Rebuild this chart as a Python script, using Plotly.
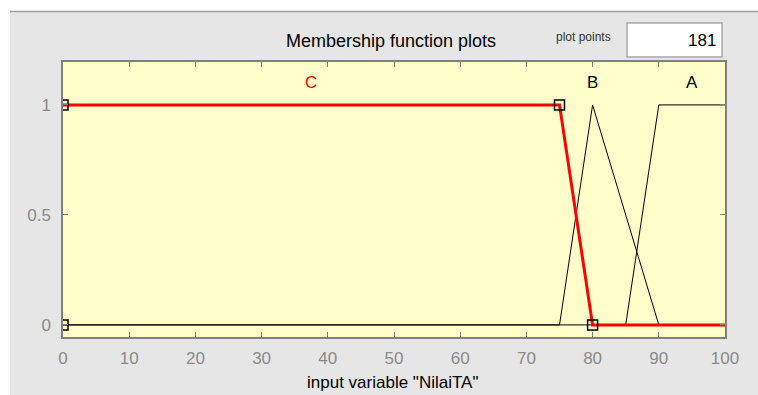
import plotly.graph_objects as go

# Membership functions of input variable "NilaiTA"
c_x = [0, 75, 80, 100]
c_y = [1, 1, 0, 0]
c_marker_x = [0, 0, 75, 80]
c_marker_y = [0, 1, 1, 0]
b_x = [0, 75, 80, 83.5, 90, 100]
b_y = [0, 0, 1, 0.65, 0, 0]
a_x = [0, 85, 90, 100]
a_y = [0, 0, 1, 1]
mf_names = ["C", "B", "A"]
mf_label_x = [37.5, 80, 95]
mf_label_y = [1.1, 1.1, 1.1]
mf_label_colors = ["red", "black", "black"]
x_ticks = [0, 10, 20, 30, 40, 50, 60, 70, 80, 90, 100]
y_ticks = [0, 0.5, 1]
plot_points = 181

W, H = 758, 395
L, R, T, B = 63, 33, 62, 58
pw, ph = W - L - R, H - T - B

def px(x):
    return (x - L) / pw

def py(y):
    return (H - B - y) / ph

fig = go.Figure()
fig.add_trace(go.Scatter(x=b_x, y=b_y, mode="lines", line=dict(color="black", width=1), hoverinfo="skip"))
fig.add_trace(go.Scatter(x=a_x, y=a_y, mode="lines", line=dict(color="black", width=1), hoverinfo="skip"))
fig.add_trace(go.Scatter(x=c_x, y=c_y, mode="lines", line=dict(color="red", width=3), hoverinfo="skip"))
fig.add_trace(go.Scatter(x=c_marker_x, y=c_marker_y, mode="markers",
                         marker=dict(symbol="square-open", size=10, color="black", line=dict(width=1.5, color="black")),
                         cliponaxis=True, hoverinfo="skip"))

font = "Liberation Sans, Arial, sans-serif"
annotations = []
for name, lx, ly, col in zip(mf_names, mf_label_x, mf_label_y, mf_label_colors):
    annotations.append(dict(x=lx, y=ly, xref="x", yref="y", text=name, showarrow=False,
                            xanchor="center", yanchor="middle",
                            font=dict(family=font, size=17, color=col)))
annotations += [
    dict(x=px(391), y=py(41), xref="paper", yref="paper", text="Membership function plots",
         xanchor="center", yanchor="middle",
         showarrow=False, font=dict(family=font, size=18, color="black")),
    dict(x=px(583), y=py(37), xref="paper", yref="paper", text="plot points",
         xanchor="center", yanchor="middle",
         showarrow=False, font=dict(family=font, size=12, color="#333333")),
    dict(x=px(718), y=py(41), xref="paper", yref="paper", text=str(plot_points),
         xanchor="right", yanchor="middle",
         showarrow=False, font=dict(family=font, size=17, color="black")),
    dict(x=px(392), y=py(382), xref="paper", yref="paper", text='input variable "NilaiTA"',
         xanchor="center", yanchor="middle",
         showarrow=False, font=dict(family=font, size=17, color="black")),
]

shapes = [
    dict(type="rect", xref="paper", yref="paper", x0=px(0), x1=px(10), y0=py(H), y1=py(0),
         fillcolor="white", line=dict(width=0), layer="below"),
    dict(type="rect", xref="paper", yref="paper", x0=px(0), x1=px(W), y0=py(11), y1=py(0),
         fillcolor="white", line=dict(width=0), layer="below"),
    dict(type="line", xref="paper", yref="paper", x0=px(10), x1=px(W), y0=py(11.5), y1=py(11.5),
         line=dict(color="#a0a0a0", width=1.5)),
    dict(type="rect", xref="paper", yref="paper", x0=px(627), x1=px(722), y0=py(57), y1=py(23),
         fillcolor="white", line=dict(color="#a8a8a8", width=1.5), layer="below"),
]

axis_common = dict(showline=True, linecolor="#808080", linewidth=1.5, mirror="ticks",
                   ticks="inside", ticklen=5, tickcolor="#808080", showgrid=False, zeroline=False,
                   tickfont=dict(family=font, size=17, color="#8a8a8a"))
fig.update_layout(
    width=W, height=H,
    margin=dict(l=L, r=R, t=T, b=B),
    paper_bgcolor="#e6e6e6",
    plot_bgcolor="#ffffcc",
    showlegend=False,
    xaxis=dict(range=[0, 100], tickvals=x_ticks, ticklabelstandoff=5, **axis_common),
    yaxis=dict(range=[-0.055, 1.195], tickvals=y_ticks, ticktext=["0", "0.5", "1"],
               ticklabelstandoff=7, **axis_common),
    annotations=annotations,
    shapes=shapes,
)
fig.write_html("out.html", config={"displayModeBar": False},
               post_script=("document.body.style.margin='0';document.body.style.padding='0';"
                            "document.body.style.overflow='hidden';"
                            "document.documentElement.style.overflow='hidden';"
                            "document.body.style.background='#e6e6e6';"
                            "document.documentElement.style.background='#e6e6e6';"))
